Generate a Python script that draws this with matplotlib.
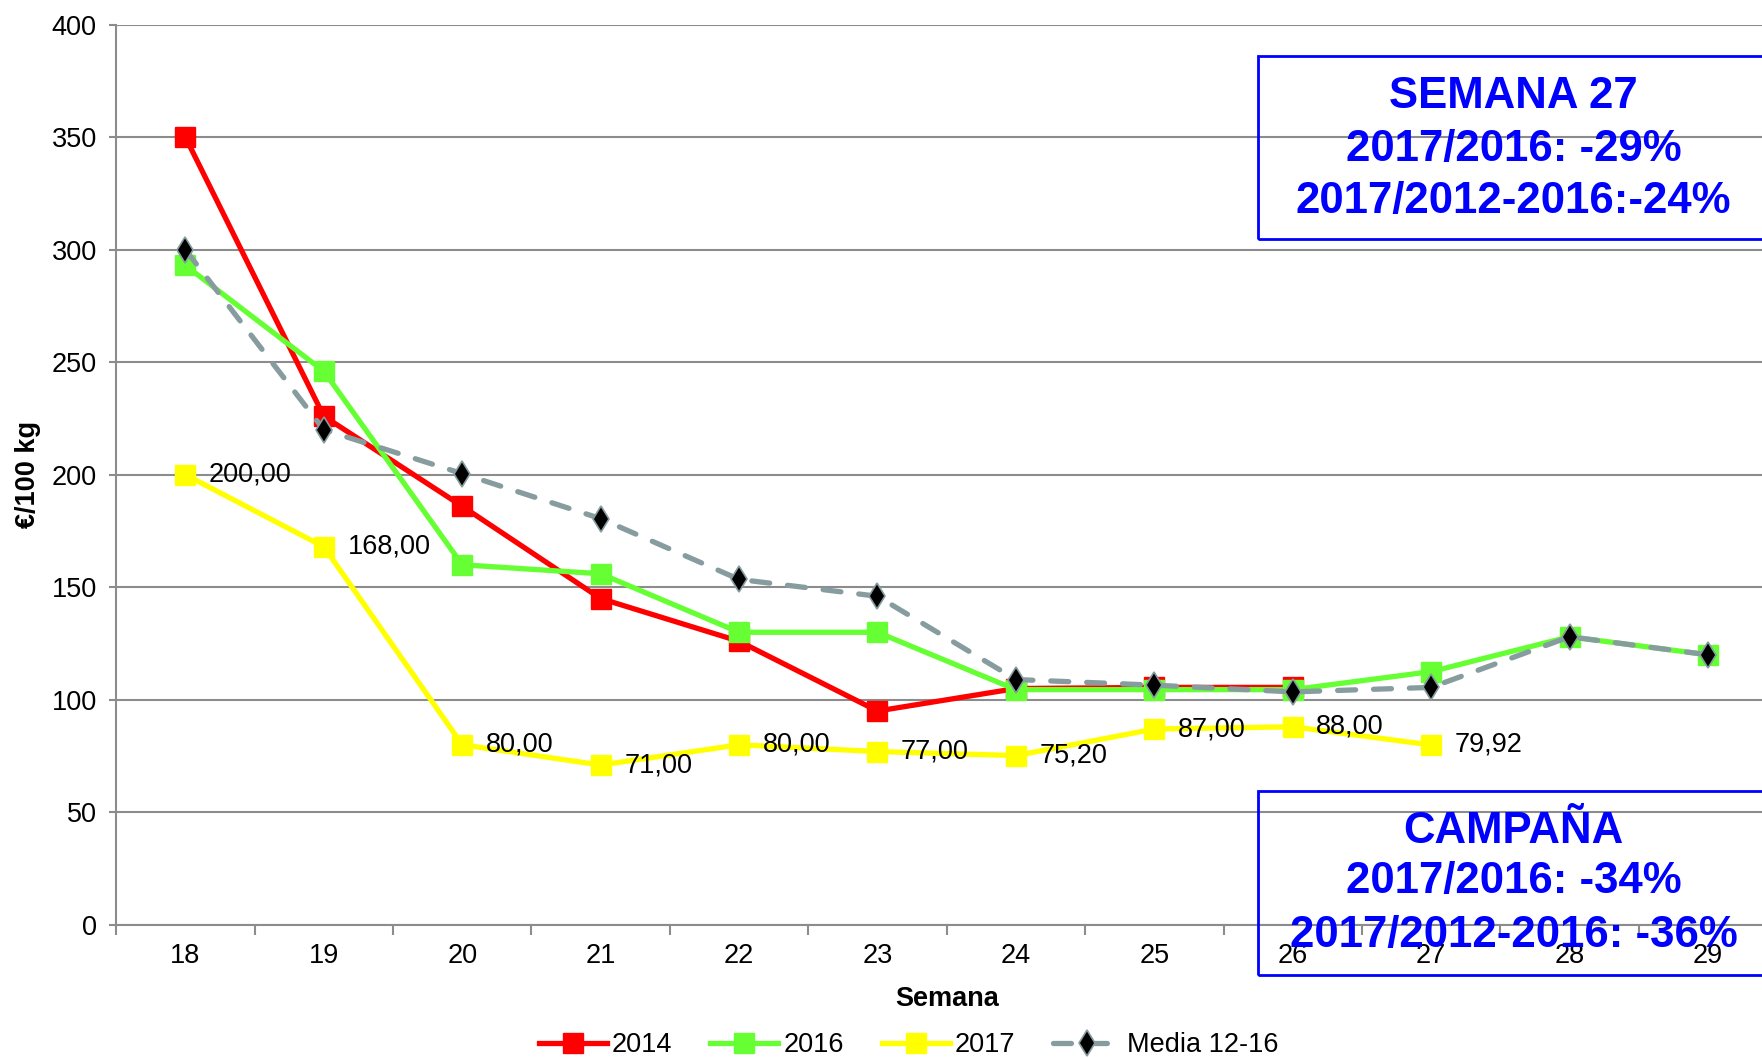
import matplotlib
matplotlib.use("Agg")
import matplotlib.pyplot as plt
from matplotlib.patches import Rectangle

plt.rcParams.update({
    "font.family": ["Liberation Sans", "DejaVu Sans"],
    "font.size": 19.5,
})

# data
weeks = [18, 19, 20, 21, 22, 23, 24, 25, 26, 27, 28, 29]
weeks_2014 = weeks[:9]
price_2014 = [350, 226, 186, 145, 126, 95, 105, 105.5, 105.5]
price_2016 = [293, 246, 160, 156, 130, 130, 104.5, 104.5, 104.5, 112.5, 128, 120]
weeks_2017 = weeks[:10]
price_2017 = [200, 168, 80, 71, 80, 77, 75.2, 87, 88, 79.92]
media_12_16 = [300, 220, 200.5, 180.5, 153.5, 146, 109, 106.5, 103.5, 105.5, 128, 120]

box_week = ["SEMANA 27", "2017/2016: -29%", "2017/2012-2016:-24%"]
box_campaign = ["CAMPAÑA", "2017/2016: -34%", "2017/2012-2016: -36%"]

W, H = 1762, 1058
fig = plt.figure(figsize=(W / 100, H / 100), dpi=100)
ax = fig.add_axes([116.2 / W, (H - 924.8) / H, (1777.2 - 116.2) / W, 900.1 / H])

grey = "#8c8c8c"
red, green, yellow = "#ff0000", "#66ff33", "#ffff00"
media_col = "#879c9f"

ax.plot(weeks_2014, price_2014, color=red, lw=3.8, marker="s", ms=14, label="2014", zorder=3)
ax.plot(weeks, price_2016, color=green, lw=3.8, marker="s", ms=14, label="2016", zorder=4)
ax.plot(weeks_2017, price_2017, color=yellow, lw=3.8, marker="s", ms=14, label="2017", zorder=5)
ax.plot(weeks, media_12_16, color=media_col, lw=3.8, ls=(0, (3.4, 3.4)), dash_capstyle="round",
        marker="d", ms=13, mfc="black", mec=media_col, mew=1.2, label="Media 12-16", zorder=6)

for w, v in zip(weeks_2017, price_2017):
    ax.annotate(f"{v:.2f}".replace(".", ","), (w, v), xytext=(17, 0), textcoords="offset points",
                ha="left", va="center", fontsize=19.5, zorder=7)

ax.set_xlim(17.5, 29.5)
ax.set_ylim(0, 400)
ax.set_yticks(range(0, 401, 50))
ax.set_xticks(weeks)
ax.set_xticks([w - 0.5 for w in weeks] + [29.5], minor=True)
ax.tick_params(axis="x", which="major", length=0, pad=13, labelsize=19.5)
ax.tick_params(axis="x", which="minor", length=7, width=1.5, color=grey, direction="out")
ax.tick_params(axis="y", length=5, width=1.5, color=grey, pad=9, labelsize=19.5)

ax.yaxis.grid(True, color=grey, lw=1.5)
ax.set_axisbelow(True)
for s in ["top", "right"]:
    ax.spines[s].set_visible(False)
for s in ["left", "bottom"]:
    ax.spines[s].set_color(grey)
    ax.spines[s].set_linewidth(1.5)

ax.set_xlabel("Semana", fontweight="bold", fontsize=19.5, labelpad=12)
fig.text(28 / W, (H - 474) / H, "€/100 kg", rotation=90, ha="center", va="center",
         fontweight="bold", fontsize=19.5)

# the two blue info boxes, cut off by the right edge
blue = "#0000ff"
for top, bottom, lines, ys in [
    (56.2, 239.4, box_week, [108.0, 161.0, 212.5]),
    (791.0, 975.4, box_campaign, [843.0, 893.5, 946.5]),
]:
    fig.add_artist(Rectangle((1257.5 / W, (H - bottom) / H), 600 / W, (bottom - top) / H,
                             transform=fig.transFigure, fill=False, ec=blue, lw=2, zorder=10))
    for txt, y in zip(lines, ys):
        fig.text(1513.7 / W, (H - y) / H, txt, ha="center", va="baseline", color=blue,
                 fontsize=31.5, fontweight="bold", zorder=11)

handles, labels = ax.get_legend_handles_labels()
fig.legend(handles, labels, loc="center", bbox_to_anchor=(908.5 / W, 13 / H), ncol=4, frameon=False,
           handlelength=2.5, handletextpad=0.2, columnspacing=1.4, fontsize=19.5)

fig.savefig("out.png", dpi=100)
